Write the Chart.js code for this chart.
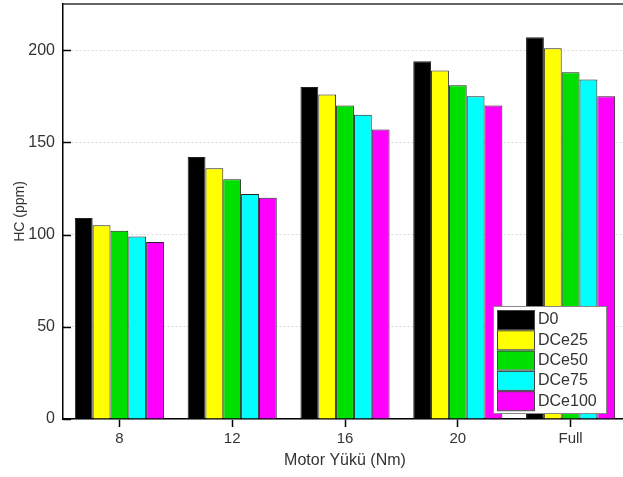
<!DOCTYPE html>
<html>
<head>
<meta charset="utf-8">
<script src="https://cdn.jsdelivr.net/npm/chart.js@4"></script>
<style>
  html, body { margin: 0; padding: 0; background: #fff; overflow: hidden; }
  #wrap { width: 640px; height: 477px; }
</style>
</head>
<body>
<div id="wrap"><canvas id="hcChart" width="640" height="477"></canvas></div>
<script>
const loads = ['8', '12', '16', '20', 'Full'];
const fuelNames = ['D0', 'DCe25', 'DCe50', 'DCe75', 'DCe100'];
const d0 = [109, 142, 180, 194, 207];
const dce25 = [105, 136, 176, 189, 201];
const dce50 = [102, 130, 170, 181, 188];
const dce75 = [99, 122, 165, 175, 184];
const dce100 = [96, 120, 157, 170, 175];
const yTicks = [0, 50, 100, 150, 200];

const seriesValues = [d0, dce25, dce50, dce75, dce100];
const fillColors = ['#000000', '#ffff00', '#00e000', '#00ffff', '#ff00ff'];
const FONT = '"Liberation Sans", Arial';

// frame, inward y ticks, and the boxed legend inside the plot
const framePlugin = {
    id: 'frame',
    afterDraw(chart) {
        const ctx = chart.ctx;
        const a = chart.chartArea;
        const y = chart.scales.y;
        ctx.save();
        ctx.strokeStyle = '#333';
        ctx.lineWidth = 1.5;
        ctx.beginPath();
        ctx.moveTo(a.left, a.top);
        ctx.lineTo(a.right, a.top);
        ctx.lineTo(a.right, a.bottom);
        ctx.stroke();

        ctx.strokeStyle = '#000';
        ctx.lineWidth = 1.5;
        yTicks.forEach(v => {
            const py = Math.round(y.getPixelForValue(v)) + 0.5;
            ctx.beginPath();
            ctx.moveTo(a.left, py);
            ctx.lineTo(a.left + 8, py);
            ctx.stroke();
        });

        // legend
        const bx = a.left + 430, by = a.top + 302, bw = 113, bh = 107;
        ctx.fillStyle = '#fff';
        ctx.fillRect(bx, by, bw, bh);
        ctx.strokeStyle = '#888';
        ctx.lineWidth = 1;
        ctx.strokeRect(bx + 0.5, by + 0.5, bw, bh);
        ctx.font = '16px ' + FONT + ', sans-serif';
        ctx.textBaseline = 'middle';
        chart.data.datasets.forEach((ds, i) => {
            const ry = by + 4 + i * 20.3;
            ctx.fillStyle = ds.backgroundColor;
            ctx.fillRect(bx + 4, ry, 37, 19);
            ctx.strokeStyle = '#444';
            ctx.strokeRect(bx + 4.5, ry + 0.5, 37, 19);
            ctx.fillStyle = '#333';
            ctx.fillText(ds.label, bx + 45, ry + 10);
        });
        ctx.restore();
    }
};

const hcChart = new Chart(document.getElementById('hcChart'), {
    type: 'bar',
    data: {
        labels: loads,
        datasets: fuelNames.map((name, i) => ({
            label: name,
            data: seriesValues[i],
            backgroundColor: fillColors[i],
            borderColor: '#222',
            borderWidth: 1,
            borderSkipped: 'bottom',
            categoryPercentage: 0.79,
            barPercentage: 1.0
        }))
    },
    options: {
        responsive: false,
        animation: false,
        layout: { padding: { top: 4, right: 13, left: 0, bottom: 0 } },
        plugins: {
            legend: { display: false },
            tooltip: { enabled: false }
        },
        scales: {
            x: {
                offset: true,
                grid: {
                    offset: false,
                    color: 'rgba(0,0,0,0)',
                    tickColor: '#000',
                    tickLength: 8,
                    tickWidth: 1.5
                },
                border: { color: '#000', width: 1.5 },
                ticks: {
                    color: '#333',
                    padding: 3,
                    font: { family: FONT, size: 15 }
                },
                title: {
                    display: true,
                    text: 'Motor Yükü (Nm)',
                    color: '#333',
                    padding: { top: 0, bottom: 7 },
                    font: { family: FONT, size: 16 }
                },
                afterFit(scale) {
                    scale.height = 58;
                    scale.paddingLeft = 0;
                    scale.paddingRight = 0;
                }
            },
            y: {
                min: 0,
                max: 225,
                afterBuildTicks(scale) {
                    scale.ticks = yTicks.map(v => ({ value: v }));
                },
                grid: {
                    color: '#d9d9d9',
                    lineWidth: 1,
                    drawTicks: false,
                    tickLength: 0
                },
                border: { color: '#000', width: 1.5, dash: [2, 2] },
                ticks: {
                    color: '#333',
                    padding: 8,
                    font: { family: FONT, size: 16 }
                },
                title: {
                    display: true,
                    text: 'HC (ppm)',
                    color: '#333',
                    padding: { top: 12, bottom: 0 },
                    font: { family: FONT, size: 14 }
                },
                afterFit(scale) {
                    scale.width = 63;
                    scale.paddingTop = 0;
                    scale.paddingBottom = 0;
                }
            }
        }
    },
    plugins: [framePlugin]
});
</script>
</body>
</html>
